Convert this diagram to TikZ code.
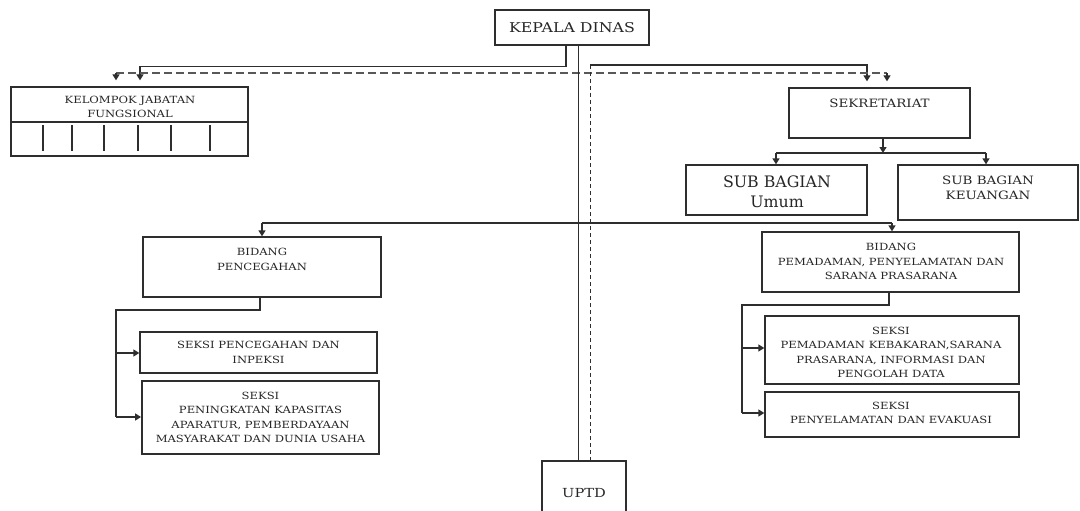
\documentclass[tikz,border=0pt]{standalone}
\usepackage{fontspec}
\setmainfont{DejaVu Serif}
\newfontfamily\wideserif[FakeStretch=1.17]{DejaVu Serif}
\usetikzlibrary{arrows.meta}
\definecolor{ln}{HTML}{2E2E2E}
\tikzset{
  box/.style={draw=ln, line width=1.3pt, inner sep=0pt},
  txt/.style={align=center, inner sep=0pt, text=black!85},
  small/.style={font=\wideserif\fontsize{9.9}{14.5}\selectfont},
  conn/.style={draw=ln, line width=1.3pt},
  arr/.style={conn, -{Triangle[length=6pt,width=7pt]}},
  dsh/.style={draw=ln!80, line width=1.4pt, dash pattern=on 8pt off 4pt},
  vdsh/.style={draw=ln, line width=0.8pt, dash pattern=on 4pt off 3pt},
}
\begin{document}
\begin{tikzpicture}[x=1pt,y=-1pt]
\useasboundingbox (0,0) rectangle (1080,511);
% boxes
\node[box, minimum width=154, minimum height=35] (kepala) at (572,27.5) {};
\node[box, minimum width=237, minimum height=69] (kjf) at (129.5,121.5) {};
\node[box, minimum width=181, minimum height=50] (sek) at (879.5,113) {};
\node[box, minimum width=181, minimum height=50] (sbu) at (776.5,190) {};
\node[box, minimum width=180, minimum height=55] (sbk) at (988,192.5) {};
\node[box, minimum width=238, minimum height=60] (bp) at (262,267) {};
\node[box, minimum width=237, minimum height=41] (spi) at (258.5,352.5) {};
\node[box, line width=1.8pt, minimum width=237, minimum height=73] (spk) at (260.5,417.5) {};
\node[box, minimum width=257, minimum height=60] (bpp) at (890.5,262) {};
\node[box, minimum width=254, minimum height=68] (spd) at (892,350) {};
\node[box, minimum width=254, minimum height=45] (spe) at (892,414.5) {};
\node[box, minimum width=84, minimum height=60] (uptd) at (584,491) {};
% kjf inner lines
\draw[conn] (kjf.west |- 0,122) -- (kjf.east |- 0,122);
\foreach \xx in {43,72,104,138,171,210} \draw[conn] (\xx,125) -- (\xx,151);
% texts
\node[txt, font=\wideserif\fontsize{13.5}{16}\selectfont] (tkepala) at (572,27.5) {KEPALA DINAS};
\node[txt, small] (tkjf) at (130,107) {KELOMPOK JABATAN\\FUNGSIONAL};
\node[txt, font=\wideserif\fontsize{11.5}{14}\selectfont] (tsek) at (879.5,103) {SEKRETARIAT};
\node[txt, font=\fontsize{15.8}{20}\selectfont] (tsbu) at (777,192) {SUB BAGIAN\\Umum};
\node[txt, font=\wideserif\fontsize{11.5}{15}\selectfont] (tsbk) at (988,188) {SUB BAGIAN\\KEUANGAN};
\node[txt, small] (tbp) at (262,259.5) {BIDANG\\PENCEGAHAN};
\node[txt, small] (tspi) at (258.5,352.5) {SEKSI PENCEGAHAN DAN\\INPEKSI};
\node[txt, small] (tspk) at (260.5,417.5) {SEKSI\\PENINGKATAN KAPASITAS\\APARATUR, PEMBERDAYAAN\\MASYARAKAT DAN DUNIA USAHA};
\node[txt, small] (tbpp) at (891,261.5) {BIDANG\\PEMADAMAN, PENYELAMATAN DAN\\SARANA PRASARANA};
\node[txt, small] (tspd) at (891,352.5) {SEKSI\\PEMADAMAN KEBAKARAN,SARANA\\PRASARANA, INFORMASI DAN\\PENGOLAH DATA};
\node[txt, small] (tspe) at (891,413) {SEKSI\\PENYELAMATAN DAN EVAKUASI};
\node[txt, font=\wideserif\fontsize{12.5}{15}\selectfont] (tuptd) at (584,493) {UPTD};
% connectors from kepala
\coordinate (lk) at (566,45);
\coordinate (rk) at (590,65);
\draw[arr, shorten >=6pt] (kepala.south -| lk) -- (566,66.5) -- (140,66.5) -- (140,0 |- kjf.north);
\draw[arr, shorten >=6pt] (rk) -- (867,65) -- (867,0 |- sek.north);
\draw[dsh] (116,73) -- (887,73);
\draw[arr, shorten >=6pt] (116,73) -- (116,0 |- kjf.north);
\draw[arr, shorten >=6pt] (887,73) -- (887,0 |- sek.north);
\draw[conn, line width=1pt] (kepala.south -| 578,0) -- (uptd.north -| 578,0);
\draw[vdsh] (rk) -- (uptd.north -| rk);
% sekretariat
\coordinate (sh) at (883,153);
\draw[arr] (sek.south -| sh) -- (sh);
\draw[conn] (776,153) -- (986,153);
\draw[arr] (776,153) -- (776,0 |- sbu.north);
\draw[arr] (986,153) -- (986,0 |- sbk.north);
% bidang row
\draw[conn] (262,223) -- (892,223);
\draw[arr] (262,223) -- (bp.north -| 262,0);
\draw[arr] (892,223) -- (bpp.north -| 892,0);
% left bidang
\draw[conn] (bp.south -| 260,0) -- (260,310) -- (116,310) -- (116,417);
\draw[arr] (116,353) -- (spi.west |- 0,353);
\draw[arr] (116,417) -- (spk.west |- 0,417);
% right bidang
\draw[conn] (bpp.south -| 889,0) -- (889,305) -- (742,305) -- (742,413);
\draw[arr] (742,348) -- (spd.west |- 0,348);
\draw[arr] (742,413) -- (spe.west |- 0,413);
\end{tikzpicture}
\end{document}
